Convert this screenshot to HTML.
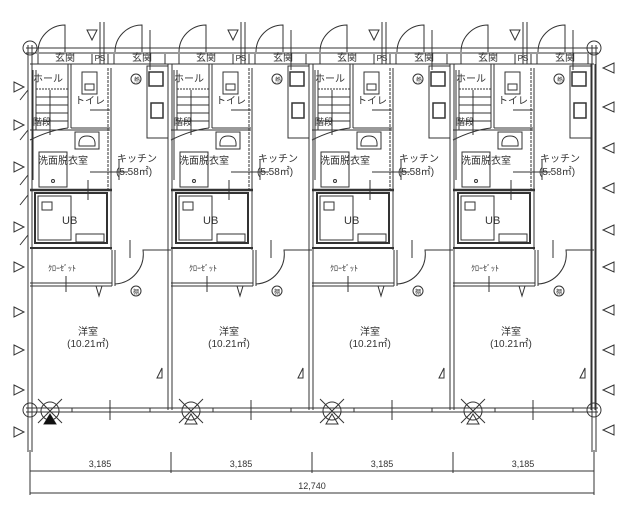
<!DOCTYPE html>
<html><head><meta charset="utf-8"><style>
html,body{margin:0;padding:0;background:#fff;}
svg{display:block;}
text{font-family:"Liberation Sans","Noto Sans CJK JP",sans-serif;fill:#333;}
</style></head><body>
<svg width="630" height="520" viewBox="0 0 630 520" xmlns="http://www.w3.org/2000/svg">
<defs>
<g id="unit" stroke="#333" stroke-width="1" fill="none">
  <!-- top door arcs -->
  <path d="M38,52 A27,27 0 0 1 65,25 L65,52"/>
  <path d="M115,52 A27,27 0 0 1 142,25 L142,52"/>
  <path d="M87,30 L92,40 L97,30 Z"/>
  <line x1="100" y1="22" x2="100" y2="64"/><line x1="104" y1="22" x2="104" y2="64"/>
  <line x1="150" y1="30" x2="150" y2="70"/>
  <!-- entry row -->
  <line x1="30" y1="64" x2="171" y2="64"/>
  <line x1="38" y1="54" x2="38" y2="64"/><line x1="92" y1="54" x2="92" y2="64"/>
  <line x1="108" y1="54" x2="108" y2="64"/><line x1="114" y1="54" x2="114" y2="64"/>
  <line x1="165" y1="54" x2="165" y2="64"/>
  <!-- hall/stairs -->
  <line x1="68" y1="64" x2="68" y2="128"/><line x1="71" y1="64" x2="71" y2="128"/>
  <line x1="33" y1="70" x2="33" y2="180"/><line x1="36" y1="70" x2="36" y2="130"/>
  <line x1="36" y1="89" x2="68" y2="89" stroke-dasharray="2,1"/>
  <line x1="36" y1="97" x2="68" y2="97"/><line x1="36" y1="105" x2="68" y2="105"/>
  <line x1="36" y1="113" x2="68" y2="113"/><line x1="36" y1="121" x2="68" y2="121"/>
  <line x1="50" y1="90" x2="50" y2="135"/>
  <path d="M30,140 Q50,130 68,128"/>
  <!-- toilet -->
  <line x1="71" y1="128" x2="110" y2="128"/>
  <rect x="82" y="72" width="15" height="22"/><rect x="85" y="84" width="9" height="6"/>
  <line x1="90" y1="110" x2="110" y2="110"/>
  <line x1="108" y1="68" x2="108" y2="190" stroke-dasharray="3,1"/>
  <line x1="111" y1="68" x2="111" y2="250"/>
  <!-- kitchen counter -->
  <rect x="147" y="66" width="21" height="72"/>
  <rect x="149" y="72" width="14" height="14" stroke-width="1.5"/>
  <rect x="151" y="103" width="12" height="15" stroke-width="1.5"/>
  <circle cx="136" cy="79" r="5"/>
  <!-- wash -->
  <line x1="30" y1="130" x2="110" y2="130"/>
  <rect x="75" y="132" width="24" height="17"/>
  <path d="M79,146 Q78,136 87,136 Q96,136 95,146 Z"/>
  <rect x="39" y="152" width="28" height="35"/>
  <circle cx="53" cy="181" r="1.5"/>
  <line x1="30" y1="190" x2="112" y2="190" stroke-width="2.5"/>
  <line x1="90" y1="172" x2="128" y2="172"/><line x1="119" y1="160" x2="119" y2="180"/>
  <line x1="88" y1="180" x2="88" y2="200"/>
  <!-- UB -->
  <rect x="35" y="193" width="72" height="50" stroke-width="2"/>
  <rect x="38" y="196" width="33" height="44"/>
  <rect x="42" y="202" width="10" height="8"/>
  <rect x="76" y="234" width="28" height="8"/>
  <line x1="30" y1="248" x2="112" y2="248" stroke-width="2"/>
  <!-- closet -->
  <line x1="30" y1="283" x2="112" y2="283"/><line x1="30" y1="286" x2="112" y2="286"/>
  <line x1="112" y1="250" x2="112" y2="286"/><line x1="115" y1="250" x2="115" y2="286"/>
  <line x1="66" y1="276" x2="66" y2="292"/>
  <path d="M96,286 L99,296 L102,286"/>
  <!-- kitchen door -->
  <path d="M115,284 A30,30 0 0 0 143,250 L171,250"/>
  <line x1="130" y1="240" x2="130" y2="258"/>
  <circle cx="136" cy="291" r="5"/>
  <!-- room triangle -->
  <path d="M157,378 L162,368 L162,378 Z"/>
  <!-- partition wall -->
  <line x1="168" y1="64" x2="168" y2="410"/><line x1="172" y1="64" x2="172" y2="410"/>
  <!-- balcony window -->
  <rect x="72" y="408" width="78" height="4" stroke-width="1"/>
  <line x1="110" y1="400" x2="110" y2="420"/>
  <!-- circle x -->
  <circle cx="50" cy="411" r="9"/>
  <line x1="38" y1="399" x2="62" y2="423"/><line x1="62" y1="399" x2="38" y2="423"/>
  <path d="M44,424 L50,414 L56,424 Z"/>
</g>
</defs>
<g stroke="#333" fill="none" stroke-width="1">
  <!-- outer walls -->
  <line x1="26" y1="48" x2="598" y2="48"/><line x1="26" y1="53" x2="598" y2="53"/>
  <line x1="26" y1="408" x2="598" y2="408"/><line x1="26" y1="412" x2="598" y2="412"/>
  <line x1="28" y1="45" x2="28" y2="452"/><line x1="32" y1="45" x2="32" y2="452"/>
  <line x1="592" y1="45" x2="592" y2="452"/><line x1="596" y1="45" x2="596" y2="452"/>
  <circle cx="30" cy="48" r="7"/><circle cx="594" cy="48" r="7"/>
  <circle cx="30" cy="410" r="7"/><circle cx="594" cy="410" r="7"/>
  <!-- left triangles -->
  <g>
    <path d="M14,82 L24,87 L14,92 Z"/><path d="M14,120 L24,125 L14,130 Z"/>
    <path d="M14,162 L24,167 L14,172 Z"/><path d="M14,222 L24,227 L14,232 Z"/>
    <path d="M14,262 L24,267 L14,272 Z"/><path d="M14,307 L24,312 L14,317 Z"/>
    <path d="M14,345 L24,350 L14,355 Z"/><path d="M14,385 L24,390 L14,395 Z"/>
    <path d="M14,427 L24,432 L14,437 Z"/>
    <path d="M20,100 L28,90 M20,140 L28,130 M20,185 L28,175 M20,205 L28,195 M20,245 L28,235"/>
  </g>
  <!-- right triangles -->
  <g>
    <path d="M614,63 L603,68 L614,73 Z"/><path d="M614,102 L603,107 L614,112 Z"/>
    <path d="M614,143 L603,148 L614,153 Z"/><path d="M614,183 L603,188 L614,193 Z"/>
    <path d="M614,225 L603,230 L614,235 Z"/><path d="M614,262 L603,267 L614,272 Z"/>
    <path d="M614,305 L603,310 L614,315 Z"/><path d="M614,345 L603,350 L614,355 Z"/>
    <path d="M614,385 L603,390 L614,395 Z"/><path d="M614,425 L603,430 L614,435 Z"/>
  </g>
  <!-- dimensions -->
  <line x1="30" y1="471" x2="594" y2="471"/>
  <line x1="30" y1="493" x2="594" y2="493"/>
  <line x1="30" y1="450" x2="30" y2="495"/><line x1="594" y1="450" x2="594" y2="495"/>
  <line x1="171" y1="452" x2="171" y2="473"/><line x1="312" y1="452" x2="312" y2="473"/>
  <line x1="453" y1="452" x2="453" y2="473"/>
</g>
<use href="#unit"/>
<use href="#unit" transform="translate(141,0)"/>
<use href="#unit" transform="translate(282,0)"/>
<use href="#unit" transform="translate(423,0)"/>
<path d="M44,424 L50,414 L56,424 Z" fill="#111"/>
<g font-size="10">
<text x="65" y="61" text-anchor="middle">玄関</text><text x="100" y="61" text-anchor="middle" font-size="8">PS</text><text x="142" y="61" text-anchor="middle">玄関</text>
<text x="206" y="61" text-anchor="middle">玄関</text><text x="241" y="61" text-anchor="middle" font-size="8">PS</text><text x="283" y="61" text-anchor="middle">玄関</text>
<text x="347" y="61" text-anchor="middle">玄関</text><text x="382" y="61" text-anchor="middle" font-size="8">PS</text><text x="424" y="61" text-anchor="middle">玄関</text>
<text x="488" y="61" text-anchor="middle">玄関</text><text x="523" y="61" text-anchor="middle" font-size="8">PS</text><text x="565" y="61" text-anchor="middle">玄関</text>
</g>
<g id="labels" font-size="10">
<text x="33" y="82">ホール</text><text x="75" y="104">トイレ</text><text x="33" y="125" font-size="9">階段</text>
<text x="38" y="164">洗面脱衣室</text><text x="117" y="162">キッチン</text><text x="116" y="175">(5.58㎡)</text>
<text x="62" y="224" font-size="11">UB</text><text x="48" y="271" font-size="8">ｸﾛｰｾﾞｯﾄ</text>
<text x="133" y="294" font-size="6">棚</text><text x="134" y="82" font-size="6">熱</text>
<text x="88" y="335" text-anchor="middle">洋室</text><text x="88" y="347" text-anchor="middle">(10.21㎡)</text>
</g>
<use href="#labels" transform="translate(141,0)"/>
<use href="#labels" transform="translate(282,0)"/>
<use href="#labels" transform="translate(423,0)"/>
<g font-size="9">
<text x="100" y="467" text-anchor="middle">3,185</text><text x="241" y="467" text-anchor="middle">3,185</text>
<text x="382" y="467" text-anchor="middle">3,185</text><text x="523" y="467" text-anchor="middle">3,185</text>
<text x="312" y="489" text-anchor="middle">12,740</text>
</g>
</svg>
</body></html>
